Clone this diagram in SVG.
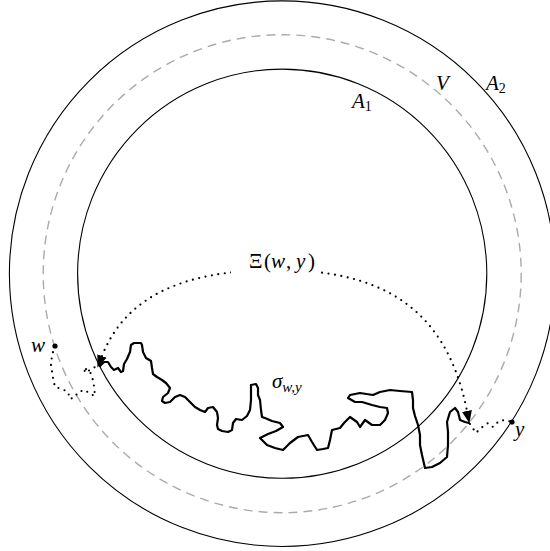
<svg xmlns="http://www.w3.org/2000/svg" width="550" height="551" viewBox="0 0 550 551">
<style>
.circ{fill:none;stroke:#000;stroke-width:1.1}
.dash{fill:none;stroke:#aaa;stroke-width:1.4;stroke-dasharray:9 6}
.dots{fill:none;stroke:#000;stroke-width:2.2;stroke-linecap:round;stroke-linejoin:round;stroke-dasharray:0 6.5}
.walk{fill:none;stroke:#000;stroke-width:2.2;stroke-linejoin:round;stroke-linecap:round}
.lbl{font-family:"Liberation Serif","DejaVu Serif",serif;font-style:italic;font-size:21px;fill:#000}
.up{font-family:"Liberation Serif","DejaVu Serif",serif;font-style:normal;font-size:21px;fill:#000}
.sub{font-size:14px;font-style:normal}
.subi{font-size:15px;font-style:italic}
</style>
<defs>
<marker id="arr" markerUnits="userSpaceOnUse" markerWidth="13" markerHeight="11" viewBox="0 0 13 11" refX="0" refY="5.5" orient="auto-start-reverse">
<path d="M0,0.5 L12.5,5.5 L0,10.5 z" fill="#000"/>
</marker>
</defs>
<rect width="550" height="551" fill="#fff"/>
<g id="A2">
<circle class="circ" cx="282.2" cy="273.7" r="272.8"/>
<text class="lbl" x="486" y="90">A<tspan class="sub" dy="3">2</tspan></text>
</g>
<g id="V">
<circle class="dash" cx="282.2" cy="273.7" r="239"/>
<text class="lbl" x="436" y="90">V</text>
</g>
<g id="A1">
<circle class="circ" cx="282.2" cy="273.7" r="204.6"/>
<text class="lbl" x="352" y="108">A<tspan class="sub" dy="3">1</tspan></text>
</g>
<g id="connectors">
<path class="dots" d="M102,356 C125,298 180,271 272,270 C372,269 445,300 467,411" marker-start="url(#arr)" marker-end="url(#arr)"/>
<rect x="231" y="252" width="86" height="26" fill="#fff"/>
<path class="dots" d="M55,346 L52,355 L51,365 L53,378 L55,387 L62,389 L68,392 L70,399 L75,397 L78,392 L85,390 L90,394 L95,396 L94,386 L92,376 L89,370 L83,368 L86,373 L92,368 L99,366"/>
<path class="dots" d="M470,424 L476,433 L481,428 L488,423 L493,427 L499,421 L505,420 L512,422"/>
<path class="walk" d="M100,366 L104,362 L108,362 L111,367 L114,370 L118,368 L121,372 L123,371 L124,364 L127,359 L130,352 L131,345 L134,343 L141,343 L142,345 L143,352 L146,358 L151,361 L152,368 L153,374 L157,377 L162,380 L166,383 L170,388 L168,393 L163,397 L162,401 L165,403 L170,402 L175,397 L180,395 L185,397 L190,402 L195,407 L200,410 L205,412 L208,408 L213,407 L217,412 L218,418 L217,425 L218,429 L222,431 L228,432 L232,430 L233,423 L236,419 L242,420 L247,416 L250,410 L251,400 L251,390 L251,385 L256,384 L258,388 L258,395 L260,400 L261,410 L262,417 L265,418 L272,421 L280,423 L283,427 L276,431 L268,434 L260,438 L264,442 L267,445 L275,448 L283,450 L290,443 L298,437 L308,435 L312,442 L317,450 L323,449 L328,448 L330,440 L332,430 L340,428 L344,423 L347,420 L350,417 L357,422 L360,427 L365,420 L372,425 L380,425 L385,420 L388,413 L387,408 L380,407 L372,405 L362,402 L355,402 L348,398 L350,395 L360,393 L373,395 L380,392 L390,390 L400,391 L412,392 L413,400 L413,408 L415,416 L418,425 L420,435 L420,445 L422,455 L425,468 L432,467 L440,463 L447,457 L448,445 L448,432 L447,422 L450,412 L455,408 L458,412 L460,420 L465,422 L469,423"/>
</g>
<g id="labels">
<text class="up" y="268"><tspan x="249">Ξ</tspan><tspan x="264">(</tspan><tspan x="271" font-style="italic">w</tspan><tspan x="286">,</tspan><tspan x="296" font-style="italic">y</tspan><tspan x="308">)</tspan></text>
<text class="lbl" x="272" y="388">σ<tspan class="subi" dy="4">w,y</tspan></text>
</g>
<g id="w">
<circle cx="55" cy="346" r="2.6" fill="#000"/>
<text class="lbl" x="31" y="352">w</text>
</g>
<g id="y">
<circle cx="512" cy="422" r="2.6" fill="#000"/>
<text class="lbl" x="515" y="436">y</text>
</g>
</svg>
